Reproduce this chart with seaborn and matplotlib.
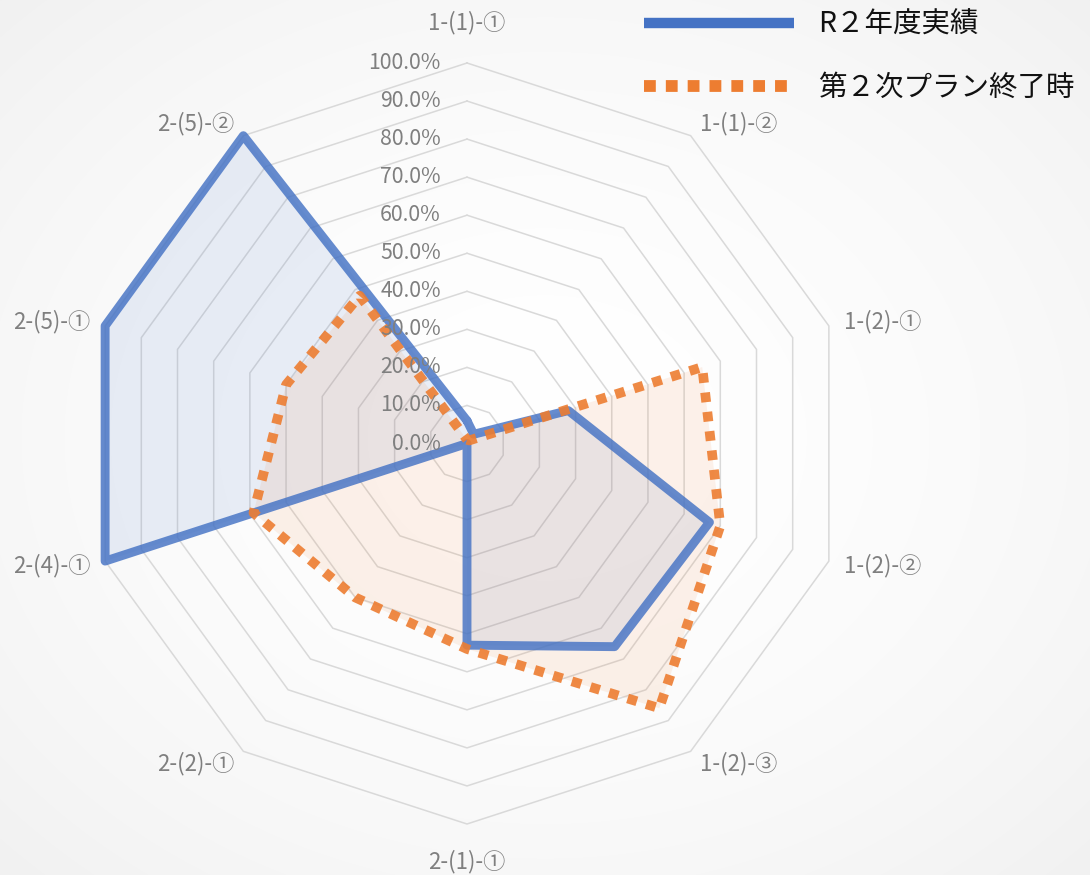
import numpy as np
import pandas as pd
import matplotlib
matplotlib.use("Agg")
import matplotlib.pyplot as plt
from matplotlib.lines import Line2D
import seaborn as sns

# ---------------- data ----------------
categories = ["1-(1)-①", "1-(1)-②", "1-(2)-①", "1-(2)-②", "1-(2)-③",
              "2-(1)-①", "2-(2)-①", "2-(4)-①", "2-(5)-①", "2-(5)-②"]
r2_actual = [0.06, 0.03, 0.28, 0.67, 0.66, 0.53, 0.00, 1.00, 1.00, 1.00]
plan_end = [0.01, 0.01, 0.65, 0.70, 0.86, 0.54, 0.50, 0.59, 0.50, 0.48]
series_names = ["R２年度実績", "第２次プラン終了時"]
tick_values = [0.0, 0.1, 0.2, 0.3, 0.4, 0.5, 0.6, 0.7, 0.8, 0.9, 1.0]
tick_labels = ["0.0%", "10.0%", "20.0%", "30.0%", "40.0%", "50.0%",
               "60.0%", "70.0%", "80.0%", "90.0%", "100.0%"]

# ---------------- style ----------------
sns.set_theme(style="white")
plt.rcParams["font.family"] = ["Noto Sans CJK JP", "DejaVu Sans"]

W, H, DPI = 1090, 875, 100
CX, CY, RPX = 467.0, 443.5, 380.5   # centre and radius in pixels
BLUE, ORANGE = "#4472C4", "#ED7D31"
GRID, LABEL = "#d9d9d9", "#7f7f7f"

fig = plt.figure(figsize=(W / DPI, H / DPI), dpi=DPI)

# subtle radial background gradient
bg = fig.add_axes([0, 0, 1, 1])
yy, xx = np.mgrid[0:H, 0:W]
d = np.sqrt(((xx - W / 2) / (W / 2)) ** 2 + ((yy - H / 2) / (H / 2)) ** 2) / np.sqrt(2)
val = 1 - 0.055 * d ** 1.8
bg.imshow(np.dstack([val, val, val]), extent=[0, W, H, 0], aspect="auto")
bg.axis("off")

ax = fig.add_axes([0, 0, 1, 1])
ax.set_facecolor("none")

n = len(categories)
theta = np.arange(n) * 2 * np.pi / n


def polygon(values):
    v = np.asarray(values, dtype=float)
    x = v * np.sin(theta)
    y = v * np.cos(theta)
    return np.append(x, x[0]), np.append(y, y[0])


# grid decagons
for lv in tick_values[1:]:
    gx, gy = polygon([lv] * n)
    ax.plot(gx, gy, color=GRID, lw=1.1, zorder=1)

# series
bx, by = polygon(r2_actual)
ox, oy = polygon(plan_end)
ax.fill(bx, by, color=BLUE, alpha=0.11, lw=0, zorder=2)
ax.fill(ox, oy, color=ORANGE, alpha=0.10, lw=0, zorder=3)

df_b = pd.DataFrame({"x": bx, "y": by})
df_o = pd.DataFrame({"x": ox, "y": oy})
sns.lineplot(data=df_b, x="x", y="y", sort=False, estimator=None, ax=ax,
             color=BLUE, lw=6.4, alpha=0.82, solid_joinstyle="round", zorder=4)
sns.lineplot(data=df_o, x="x", y="y", sort=False, estimator=None, ax=ax,
             color=ORANGE, lw=7.0, alpha=0.9, linestyle=(0, (1, 1)),
             dash_capstyle="butt", zorder=5)
ax.set_xlim(-CX / RPX, (W - CX) / RPX)
ax.set_ylim(-(H - CY) / RPX, CY / RPX)
ax.axis("off")

# radial tick labels
for v, lab in zip(tick_values, tick_labels):
    ax.annotate(lab, xy=(0, v), xytext=(-26, 0), textcoords="offset pixels",
                ha="right", va="center", fontsize=15.3, color=LABEL, zorder=6)

# category labels
for t, cat in zip(theta, categories):
    s, c = np.sin(t), np.cos(t)
    if abs(s) < 0.1:
        ha = "center"
        off = (0, 40 if c > 0 else -38)
    else:
        ha = "left" if s > 0 else "right"
        dx = 15 if abs(s) > 0.9 else 9
        off = (dx * np.sign(s), 15 * c)
    ax.annotate(cat, xy=(s, c), xytext=off, textcoords="offset pixels",
                ha=ha, va="center", fontsize=16, color=LABEL, zorder=6)

# legend
handles = [Line2D([], [], color=BLUE, lw=7.5, solid_capstyle="butt"),
           Line2D([], [], color=ORANGE, lw=8.5, linestyle=(0, (1, 0.85)),
                  dash_capstyle="butt")]
fs = 20.5
fs_px = fs * DPI / 72
leg = fig.legend(handles, series_names, loc="upper left",
                 bbox_to_anchor=(644 / W, 1 - 10 / H), frameon=False,
                 fontsize=fs, handlelength=150 / fs_px, handletextpad=24 / fs_px,
                 labelspacing=1.17, borderpad=0, borderaxespad=0)
for txt in leg.get_texts():
    txt.set_color("#111111")

fig.savefig("out.png", dpi=DPI)
